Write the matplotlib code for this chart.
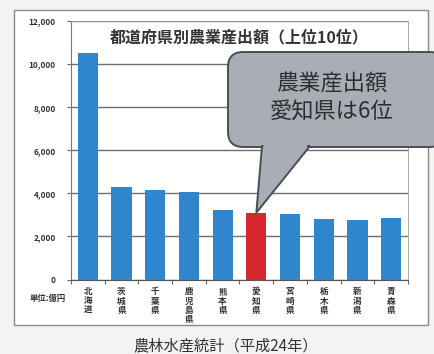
import matplotlib.pyplot as plt
import matplotlib.patches as mpatches
from matplotlib.ticker import FuncFormatter, FixedLocator

plt.rcParams['font.family'] = ['Noto Sans CJK JP', 'DejaVu Sans']

# 都道府県別農業産出額 上位10位 (億円)
prefs = ['北海道', '茨城県', '千葉県', '鹿児島県', '熊本県',
         '愛知県', '宮崎県', '栃木県', '新潟県', '青森県']
values = [10536, 4281, 4153, 4069, 3246, 3101, 3048, 2810, 2780, 2840]
highlight = '愛知県'

W, H = 435, 354
fig = plt.figure(figsize=(W / 100, H / 100), dpi=100)
fig.patch.set_facecolor('#f3f3f1')

def px(x, y):
    # pixel (origin top-left) -> figure fraction
    return x / W, 1 - y / H

# paper frame
x0, y0 = px(14, 10)
x1, y1 = px(428, 325)
fig.patches.append(mpatches.Rectangle((x0, y1), x1 - x0, y0 - y1, transform=fig.transFigure,
                                      facecolor='white', edgecolor='#8a8a8a', lw=1.0, zorder=-5))

l, t = px(71, 21)
r, b = px(408, 279.5)
ax = fig.add_axes([l, b, r - l, t - b])
ax.set_zorder(1)
ax.set_facecolor('white')

xs = range(len(prefs))
colors = ['#d6262e' if p == highlight else '#2f86cc' for p in prefs]
ax.bar(xs, values, width=0.6, color=colors, zorder=3)

ax.set_xlim(-0.45, len(prefs) - 0.55)
ax.set_ylim(0, 12000)
ax.yaxis.set_major_locator(FixedLocator(range(0, 12001, 2000)))
ax.yaxis.set_major_formatter(FuncFormatter(lambda v, _: f'{int(v):,}'))
ax.grid(axis='y', color='#6e6e6e', lw=1.0, zorder=1)
ax.tick_params(axis='y', labelsize=6, length=3, color='#666', pad=8, labelcolor='#333')
for lab in ax.get_yticklabels():
    lab.set_fontweight('bold')

# category boundary ticks, labels drawn separately
ax.set_xticks([i + 0.5 for i in range(-1, len(prefs))])
ax.set_xticklabels([])
ax.tick_params(axis='x', length=3, color='#666')
for s in ['top', 'right']:
    ax.spines[s].set_color('#999')
    ax.spines[s].set_linewidth(0.6)
ax.spines['left'].set_color('#777')
ax.spines['bottom'].set_color('#555')

for i, p in enumerate(prefs):
    ax.text(i, -0.03, '\n'.join(p), transform=ax.get_xaxis_transform(),
            ha='center', va='top', fontsize=6.2, fontweight='bold',
            color='#333', linespacing=1.05)

fig.text(*px(48, 298), '単位:億円', ha='center', va='center',
         fontsize=6, fontweight='bold', color='#333')

ax.text(0.5, 0.935, '都道府県別農業産出額（上位10位）', transform=ax.transAxes,
        ha='center', va='center', fontsize=11.5, fontweight='bold', color='#333')

# callout pointing at the highlighted bar
k = prefs.index(highlight)
tip_disp = ax.transData.transform((k, values[k]))
tip = fig.transFigure.inverted().transform(tip_disp)

fill = '#a9aeb6'
edge = '#4a4d52'
bx0, by0 = px(228, 147)
bx1, by1 = px(445, 52)
box = mpatches.FancyBboxPatch((bx0, by0), bx1 - bx0, by1 - by0,
                              boxstyle='round,pad=0,rounding_size=0.035',
                              transform=fig.transFigure, facecolor=fill,
                              edgecolor=edge, lw=1.4, zorder=5,
                              mutation_aspect=W / H)
fig.patches.append(box)

bl = px(262, 146)
br = px(310, 146)
ptr = mpatches.Polygon([bl, tuple(tip), br], closed=True, transform=fig.transFigure,
                       facecolor=fill, edgecolor=edge, lw=1.4, zorder=6)
fig.patches.append(ptr)
# hide the box edge where the pointer joins it
cover = mpatches.Polygon([px(263.5, 141), px(308, 141), px(306, 150), px(263.5, 150)],
                         closed=True, transform=fig.transFigure,
                         facecolor=fill, edgecolor='none', zorder=7)
fig.patches.append(cover)

fig.text(*px(332, 98), '農業産出額\n愛知県は6位', ha='center', va='center',
         fontsize=16, color='#2e2e2e', linespacing=1.25, zorder=8)

fig.text(*px(226, 346), '農林水産統計（平成24年）', ha='center', va='center',
         fontsize=11, color='#333')

fig.savefig('out.png', dpi=100, facecolor=fig.get_facecolor())
